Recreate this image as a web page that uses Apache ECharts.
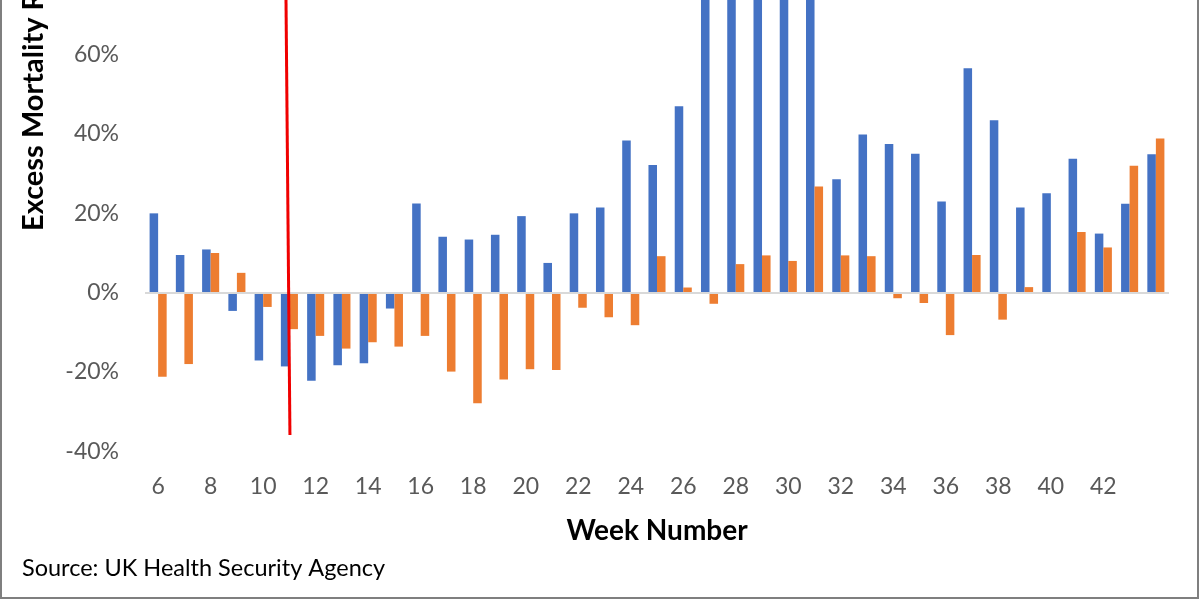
<!DOCTYPE html>
<html>
<head>
<meta charset="utf-8">
<script src="https://cdn.jsdelivr.net/npm/echarts@6/dist/echarts.min.js"></script>
<style>
  html, body { margin: 0; padding: 0; background: #fff; overflow: hidden; }
  #chart { position: absolute; left: 0; top: 0; width: 1200px; height: 600px; }
  #frame { position: absolute; left: 0; top: -6px; width: 1199px; height: 605px; box-sizing: border-box; border: 2px solid #7f7f7f; pointer-events: none; }
</style>
</head>
<body>
<div id="chart"></div>
<div id="frame"></div>
<script>
// Week numbers
const weeks = [6,7,8,9,10,11,12,13,14,15,16,17,18,19,20,21,22,23,24,25,26,27,28,29,30,31,32,33,34,35,36,37,38,39,40,41,42,43,44];
// Excess mortality (%), blue series
const blueValues = [20.0, 9.5, 10.9, -4.6, -17.1, -18.6, -22.2, -18.3, -17.8, -4.0,
  22.5, 14.1, 13.4, 14.6, 19.3, 7.5, 20.0, 21.5, 38.4, 32.2,
  47.0, 95, 110, 120, 105, 85, 28.6, 39.9, 37.5, 35.0,
  23.0, 56.6, 43.5, 21.5, 25.1, 33.8, 14.9, 22.4, 34.9];
// Excess mortality (%), orange series
const orangeValues = [-21.2, -18.0, 10.0, 5.0, -3.6, -9.2, -10.9, -14.1, -12.5, -13.6,
  -10.9, -19.9, -27.9, -21.9, -19.3, -19.5, -3.8, -6.2, -8.2, 9.2,
  1.3, -2.8, 7.2, 9.4, 8.0, 26.8, 9.4, 9.2, -1.4, -2.6,
  -10.7, 9.5, -6.8, 1.4, 0, 15.3, 11.4, 32.0, 38.9];
// Y tick values shown
const yTicks = [-40, -20, 0, 20, 40, 60];
// Red annotation line (week position, value) endpoints
const markerLine = [[10.87, 73.8], [11.02, -35.9]];

const FONT = 'Lato';
const chart = echarts.init(document.getElementById('chart'), null, { renderer: 'canvas' });
chart.setOption({
  animation: false,
  backgroundColor: '#fff',
  grid: { left: 145, right: 31, top: 0, bottom: 148.7, containLabel: false },
  xAxis: [{
    type: 'category',
    data: weeks.map(String),
    position: 'bottom',
    axisLine: { show: false, onZero: false },
    axisTick: { show: false },
    axisLabel: {
      interval: (idx) => idx % 2 === 0 && idx < weeks.length - 1,
      margin: 24,
      color: '#595959',
      fontFamily: FONT,
      fontSize: 23
    },
    name: 'Week Number',
    nameLocation: 'middle',
    nameGap: 66,
    nameTextStyle: { fontFamily: FONT, fontWeight: 'bold', fontSize: 28, color: '#000' }
  }, {
    type: 'value',
    min: weeks[0] - 0.5,
    max: weeks[weeks.length - 1] + 0.5,
    show: false
  }],
  yAxis: {
    type: 'value',
    min: -40,
    max: 73.8,
    interval: 20,
    axisLine: { show: false },
    axisTick: { show: false },
    splitLine: { show: false },
    axisLabel: {
      margin: 26,
      color: '#595959',
      fontFamily: FONT,
      fontSize: 23,
      formatter: (v) => yTicks.indexOf(Math.round(v)) >= 0 && Math.abs(v - Math.round(v)) < 1e-6 ? v + '%' : ''
    }
  },
  series: [{
    type: 'bar',
    data: blueValues,
    barGap: '0%',
    barCategoryGap: '35%',
    itemStyle: { color: '#4472c4' },
    markLine: {
      silent: true,
      symbol: 'none',
      label: { show: false },
      lineStyle: { color: '#d9d9d9', width: 2, type: 'solid' },
      data: [{ yAxis: 0 }]
    }
  }, {
    type: 'bar',
    data: orangeValues,
    barGap: '0%',
    barCategoryGap: '35%',
    itemStyle: { color: '#ed7d31' }
  }, {
    type: 'line',
    xAxisIndex: 1,
    data: markerLine,
    symbol: 'none',
    lineStyle: { color: '#f00000', width: 3 },
    z: 10
  }],
  graphic: [{
    type: 'text',
    x: 34,
    y: 231,
    rotation: Math.PI / 2,
    style: {
      text: 'Excess Mortality Rate',
      font: 'bold 29px ' + FONT,
      fill: '#000',
      textAlign: 'left',
      textVerticalAlign: 'middle'
    }
  }, {
    type: 'text',
    x: 22,
    y: 568,
    style: {
      text: 'Source: UK Health Security Agency',
      font: '23.5px ' + FONT,
      fill: '#000',
      textAlign: 'left',
      textVerticalAlign: 'middle'
    }
  }]
});
</script>
</body>
</html>
